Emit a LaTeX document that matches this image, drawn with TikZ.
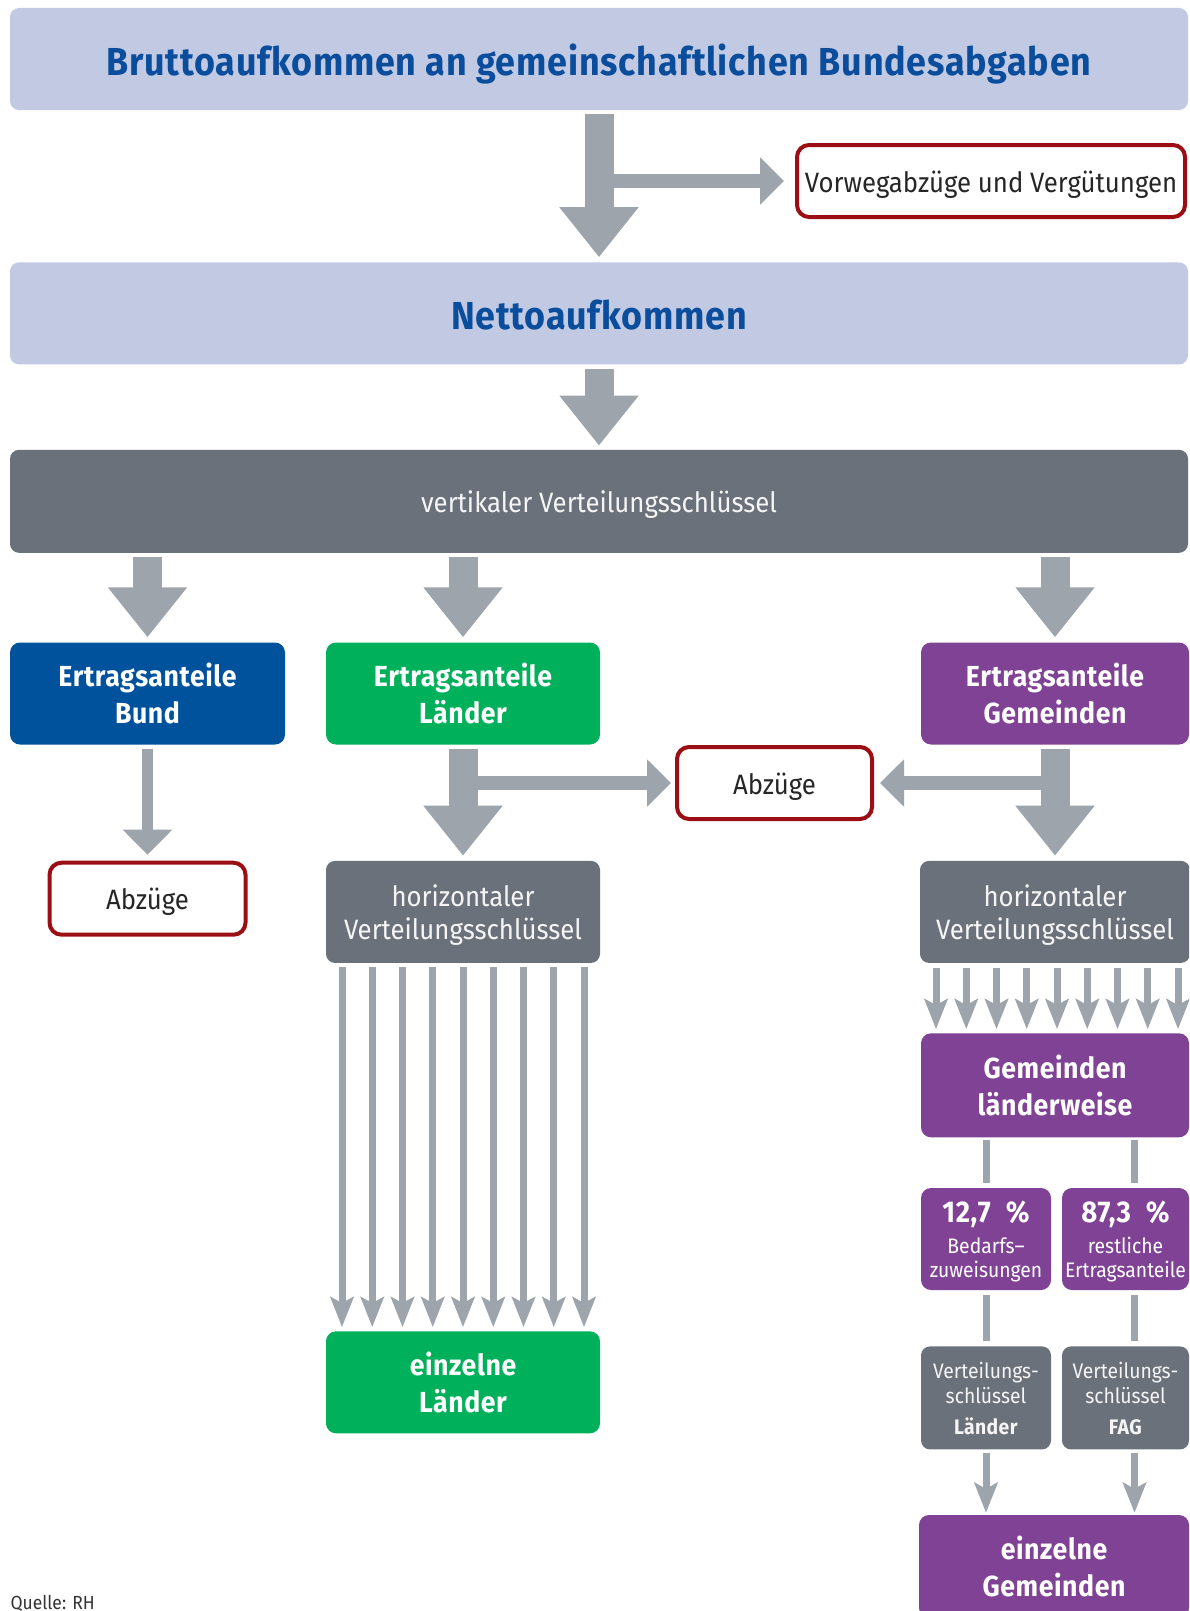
\documentclass[tikz,border=0pt]{standalone}
\usepackage{fontspec}
\setmainfont{Fira Sans}[FakeStretch=0.92, BoldFeatures={LetterSpace=2}]
\usetikzlibrary{
    arrows.meta,
    positioning
}
\definecolor{headfill}{RGB}{194,202,227}
\definecolor{headblue}{RGB}{10,77,156}
\definecolor{keygray}{RGB}{107,113,122}
\definecolor{arrowgray}{RGB}{157,164,171}
\definecolor{bundblue}{RGB}{0,82,156}
\definecolor{laendergreen}{RGB}{0,176,90}
\definecolor{gempurple}{RGB}{127,66,149}
\definecolor{abzugred}{RGB}{155,15,20}
\tikzstyle{headbox} = [
    rectangle,
    rounded corners=9pt,
    fill=headfill,
    minimum width=1178pt,
    minimum height=102pt,
    inner sep=0pt,
    text height=36pt,
    text depth=4pt,
    text=headblue,
    font=\fontsize{39}{46}\selectfont\bfseries
]
\tikzstyle{keybox} = [
    rectangle,
    rounded corners=9pt,
    fill=keygray,
    minimum height=102pt,
    inner sep=0pt,
    text depth=0pt,
    align=center,
    text=white!93!keygray,
    font=\fontsize{28}{33}\selectfont
]
\tikzstyle{share} = [
    rectangle,
    rounded corners=10pt,
    minimum width=274pt,
    minimum height=102pt,
    inner sep=0pt,
    align=center,
    text=white,
    font=\fontsize{29}{37}\selectfont\bfseries
]
\tikzstyle{abzug} = [
    rectangle,
    rounded corners=12pt,
    draw=abzugred,
    line width=4pt,
    fill=white,
    minimum height=72pt,
    inner sep=0pt,
    text height=26pt,
    text depth=4pt,
    text=black!85,
    font=\fontsize{28}{33}\selectfont
]
\tikzstyle{bigarrow} = [
    -{Triangle[width=76pt,length=50pt]},
    line width=29pt,
    draw=arrowgray,
    fill=arrowgray
]
\tikzstyle{sidearrow} = [
    -{Triangle[width=46pt,length=24pt]},
    line width=14pt,
    draw=arrowgray,
    fill=arrowgray
]
\tikzstyle{thinarrow} = [
    -{Triangle[width=48pt,length=25pt]},
    line width=11.5pt,
    draw=arrowgray,
    fill=arrowgray
]
\tikzstyle{fanarrow} = [
    -{Stealth[width=23pt,length=30pt,inset=6pt]},
    line width=7pt,
    draw=arrowgray,
    fill=arrowgray
]
\tikzstyle{linkline} = [
    line width=7pt,
    draw=arrowgray
]
\newcommand{\pctline}[1]{{\fontsize{30}{32}\selectfont\bfseries\addfontfeatures{LetterSpace=6}#1}}

\begin{document}
\begin{tikzpicture}[x=1pt, y=-1pt]
    \useasboundingbox (0,0) rectangle (1189,1611);
    \clip (0,0) rectangle (1189,1611);

    % Top rows
    \node[headbox] (brutto) at (599,59) {Bruttoaufkommen an gemeinschaftlichen Bundesabgaben};
    \node[abzug, minimum width=388pt] (vorweg) at (991,181) {Vorwegabzüge und Vergütungen};
    \node[headbox, below=152pt of brutto] (netto) {Nettoaufkommen};
    \node[keybox, minimum width=1178pt, minimum height=103pt, below=85pt of netto] (vert) {vertikaler Verteilungsschlüssel};

    \draw[sidearrow, shorten >=11pt] (brutto.south |- vorweg.west) -- (vorweg.west);
    \draw[bigarrow, shorten <=4pt, shorten >=5pt] (brutto) -- (netto);
    \draw[bigarrow, shorten <=4pt, shorten >=4pt] (netto) -- (vert);

    % Shares
    \node[share, fill=bundblue, minimum width=275pt] (bund) at (147.5,693.5) {Ertragsanteile\\Bund};
    \node[share, fill=laendergreen] (laender) at (463,693.5) {Ertragsanteile\\Länder};
    \node[share, fill=gempurple, minimum width=268pt] (gemeinden) at (1055,693.5) {Ertragsanteile\\Gemeinden};

    \draw[bigarrow, shorten <=4pt, shorten >=5pt] (vert.south -| bund.north) -- (bund.north);
    \draw[bigarrow, shorten <=4pt, shorten >=5pt] (vert.south -| laender.north) -- (laender.north);
    \draw[bigarrow, shorten <=4pt, shorten >=5pt] (vert.south -| gemeinden.north) -- (gemeinden.north);

    % Deductions
    \node[abzug, minimum width=196pt, below=116pt of bund] (abzugbund) {Abzüge};
    \node[abzug, minimum width=195pt] (abzugmitte) at (774.5,783) {Abzüge};

    \draw[thinarrow, shorten <=4pt, shorten >=6pt] (bund) -- (abzugbund);

    % Horizontal keys
    \node[keybox, minimum width=274pt, below=116pt of laender] (hkeyl) {horizontaler\\Verteilungsschlüssel};
    \node[keybox, minimum width=270pt, below=116pt of gemeinden] (hkeyg) {horizontaler\\Verteilungsschlüssel};

    \draw[sidearrow, shorten >=4pt] (laender.south |- abzugmitte.west) -- (abzugmitte.west);
    \draw[sidearrow, shorten >=6pt] (gemeinden.south |- abzugmitte.east) -- (abzugmitte.east);
    \draw[bigarrow, shorten <=4pt, shorten >=5pt] (laender) -- (hkeyl);
    \draw[bigarrow, shorten <=4pt, shorten >=5pt] (gemeinden.south) -- (gemeinden.south |- hkeyg.north);

    % Laender column
    \node[share, fill=laendergreen, below=368pt of hkeyl] (einzell) {einzelne\\Länder};
    \foreach \i in {-4,...,4}
        \draw[fanarrow, shorten <=4pt, shorten >=4pt] ([xshift=\i*30.25pt]hkeyl.south) -- ([xshift=\i*30.25pt]hkeyl.south |- einzell.north);

    % Gemeinden column
    \node[share, fill=gempurple, minimum width=268pt, minimum height=104pt, below=70pt of hkeyg] (gemlw) {Gemeinden\\länderweise};
    \foreach \i in {-4,...,4}
        \draw[fanarrow, shorten <=5pt, shorten >=4pt] ([xshift=\i*30.25pt+2pt]hkeyg.south) -- ([xshift=\i*30.25pt+2pt]hkeyg.south |- gemlw.north);

    \node[share, fill=gempurple, minimum width=130pt, text depth=-7pt, font=\fontsize{21}{24}\selectfont] (bedarf) at (986,1239)
        {\pctline{12,7\hspace{15pt}\%}\\[7pt]Bedarfs–\\zuweisungen};
    \node[share, fill=gempurple, minimum width=127pt, text depth=-7pt, font=\fontsize{21}{24}\selectfont] (rest) at (1125.5,1239)
        {\pctline{87,3\hspace{15pt}\%}\\[7pt]restliche\\Ertragsanteile};
    \node[keybox, minimum width=130pt, minimum height=103pt, font=\fontsize{21}{25}\selectfont, below=56pt of bedarf] (vkeyl)
        {Verteilungs-\\schlüssel\\[6pt]\textbf{Länder}};
    \node[keybox, minimum width=127pt, minimum height=103pt, font=\fontsize{21}{25}\selectfont, below=56pt of rest] (vkeyfag)
        {Verteilungs-\\schlüssel\\[6pt]\textbf{FAG}};
    \node[share, fill=gempurple, minimum width=270pt, minimum height=103pt] (einzelg) at (1054,1566.5) {einzelne\\Gemeinden};

    \draw[linkline, shorten <=2pt, shorten >=5pt] (gemlw.south -| bedarf.north) -- (bedarf.north);
    \draw[linkline, shorten <=2pt, shorten >=5pt] ([xshift=9pt]gemlw.south -| rest.north) -- ([xshift=9pt]rest.north);
    \draw[linkline, shorten <=5pt, shorten >=5pt] (bedarf) -- (vkeyl);
    \draw[linkline, shorten <=5pt, shorten >=5pt] ([xshift=9pt]rest.south) -- ([xshift=9pt]vkeyfag.north);
    \draw[fanarrow, shorten <=3pt, shorten >=2pt] (vkeyl.south) -- (vkeyl.south |- einzelg.north);
    \draw[fanarrow, shorten <=3pt, shorten >=2pt] ([xshift=9pt]vkeyfag.south) -- ([xshift=9pt]vkeyfag.south |- einzelg.north);

    % Source
    \node[anchor=base west, font=\fontsize{19}{22}\selectfont, text=black!80] (quelle) at (7,1609) {Quelle: RH};
\end{tikzpicture}
\end{document}
